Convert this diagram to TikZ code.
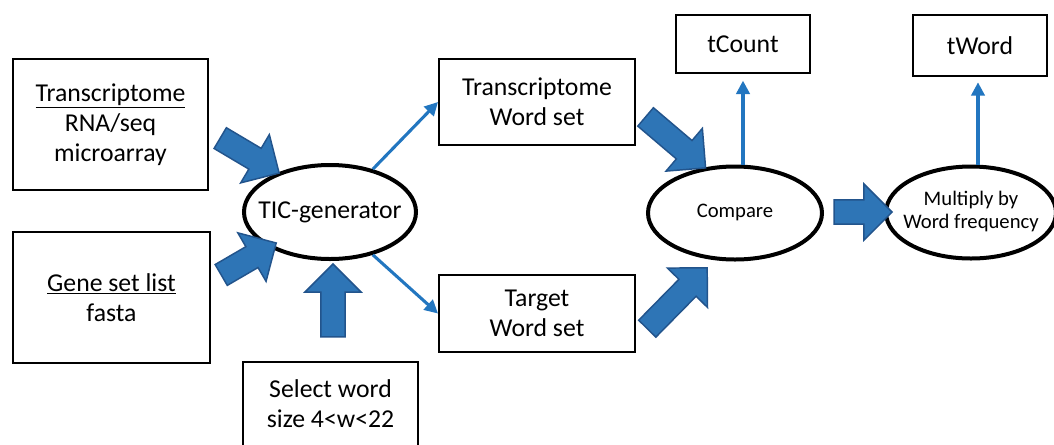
\documentclass[tikz,border=0pt]{standalone}
\usepackage{fontspec}
\setmainfont{Carlito}
\usetikzlibrary{shapes.geometric,shapes.arrows,arrows.meta,calc}
\definecolor{fatfill}{RGB}{46,117,182}
\definecolor{fatedge}{RGB}{34,84,140}
\definecolor{thinblue}{RGB}{34,118,192}
\newcommand\ovaltext[1]{\makebox[0pt]{\begin{tabular}{@{}c@{}}#1\end{tabular}}}
\tikzset{
  box/.style={draw=black,line width=1.5pt,fill=white,inner sep=0pt,align=center,
    font=\fontsize{19.3}{22.5}\selectfont},
  oval/.style={ellipse,draw=black,line width=3pt,inner sep=0pt,
    font=\fontsize{19.3}{22.5}\selectfont},
  smalltext/.style={font=\fontsize{15.5}{17.5}\selectfont},
  fat/.style={single arrow,fill=fatfill,draw=fatedge,line width=1.1pt,
    inner xsep=0pt,inner ysep=8.5pt,
    single arrow head extend=12pt,single arrow tip angle=90},
  thin/.style={draw=thinblue,line width=2.3pt,-{Triangle[length=10pt,width=10pt]}}
}
\newcommand\fatarrow[2]{%
  \path let \p1=(#1), \p2=(#2), \n1={atan2(\y2-\y1,\x2-\x1)},
    \n2={veclen(\x2-\x1,\y2-\y1)} in
    node[fat,rotate=\n1,minimum height=\n2] at ($(#1)!0.5!(#2)$) {};}
\begin{document}
\begin{tikzpicture}[x=0.75pt,y=-0.75pt]
\useasboundingbox[fill=white] (0,0) rectangle (1054,444);
% boxes
\node[box,minimum width=195*0.75pt,minimum height=131*0.75pt] (tr) at (110.5,124.5)
  {\underline{Transcriptome}\\RNA/seq\\microarray};
\node[box,minimum width=197*0.75pt,minimum height=131*0.75pt] (gs) at (111.5,297.5)
  {\underline{Gene set list}\\fasta};
\node[box,minimum width=175*0.75pt,minimum height=84*0.75pt] (sel) at (330.5,404)
  {Select word\\size 4<w<22};
\node[box,minimum width=196*0.75pt,minimum height=86*0.75pt] (tws) at (537,102)
  {Transcriptome\\Word set};
\node[box,minimum width=196*0.75pt,minimum height=77*0.75pt] (tgt) at (537,313.5)
  {Target\\Word set};
\node[box,minimum width=134*0.75pt,minimum height=58*0.75pt] (tcount) at (743,44)
  {tCount};
\node[box,minimum width=134*0.75pt,minimum height=61*0.75pt] (tword) at (980,45.5)
  {tWord};
% ellipses
\node[oval,minimum width=172*0.75pt,minimum height=94*0.75pt] (tic) at (330,212)
  {\ovaltext{TIC-generator}};
\node[oval,smalltext,minimum width=174*0.75pt,minimum height=93*0.75pt] (cmp) at (735,213)
  {\ovaltext{Compare}};
\node[oval,smalltext,minimum width=170*0.75pt,minimum height=92*0.75pt] (mul) at (971,212.5)
  {\ovaltext{Multiply by\\Word frequency}};
% thin connectors
\draw[thin] (tic.45) -- (tws.west);
\draw[thin] (tic.-45) -- (tgt.west);
\draw[thin,shorten >=5pt] (cmp.north -| tcount.south) -- (tcount.south);
\coordinate (mtop) at ($(mul.north)+(7,0)$);
\coordinate (wbot) at ($(tword.south)+(-2,0)$);
\draw[thin,shorten >=4pt] (mtop) -- (mtop |- wbot);
% fat arrows
\coordinate (a1s) at (215,135);
\coordinate (a1e) at (274,170);
\coordinate (a2s) at (216,278);
\coordinate (a2e) at (271,246);
\coordinate (a3s) at (333,343);
\coordinate (a3e) at (333,270);
\coordinate (a4s) at (641,113);
\coordinate (a4e) at (701,164);
\coordinate (a5s) at (643,333);
\coordinate (a5e) at (703,272);
\coordinate (a6s) at (828,212);
\coordinate (a6e) at (886,212);
\fatarrow{a1s}{a1e}
\fatarrow{a2s}{a2e}
\fatarrow{a3s}{a3e}
\fatarrow{a4s}{a4e}
\fatarrow{a5s}{a5e}
\fatarrow{a6s}{a6e}
\end{tikzpicture}
\end{document}
